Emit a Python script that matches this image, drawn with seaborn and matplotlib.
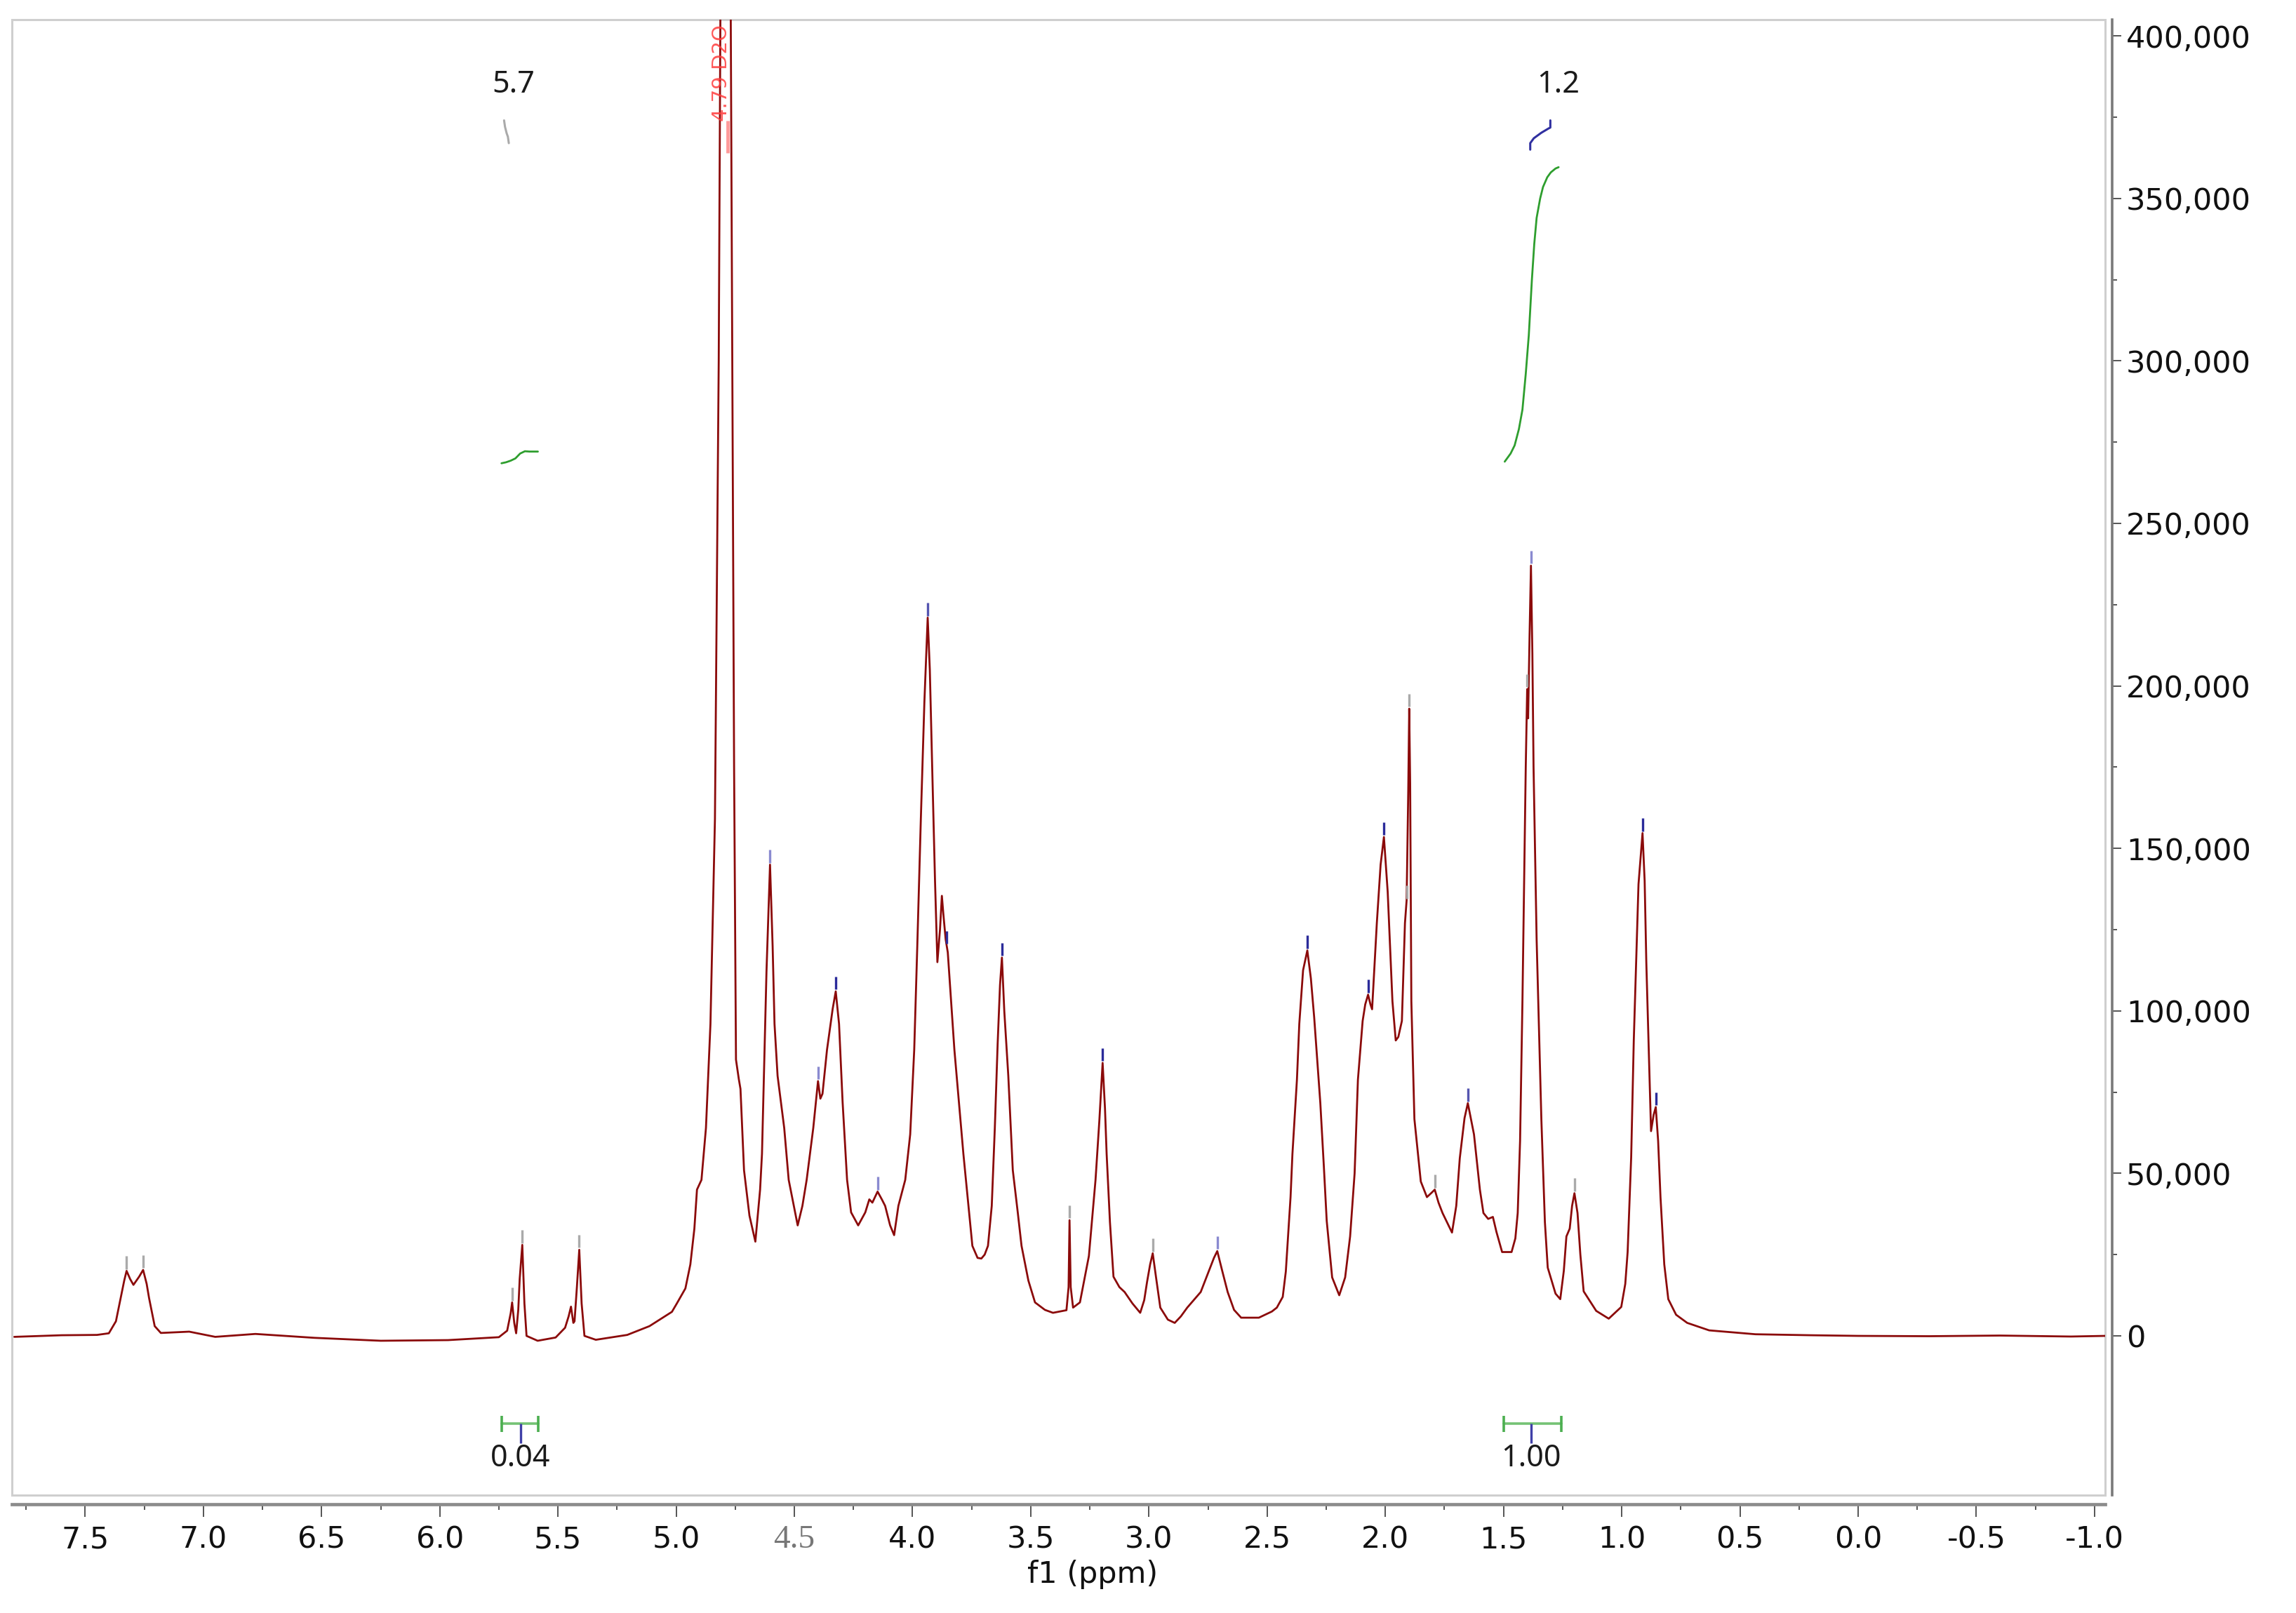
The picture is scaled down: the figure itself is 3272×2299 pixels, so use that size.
# 1H NMR spectrum (D2O), redrawn from the reference picture
import numpy as np
import pandas as pd
import matplotlib
matplotlib.use('Agg')
import matplotlib.pyplot as plt
import seaborn as sns
from matplotlib.ticker import FixedLocator
from matplotlib.patches import Rectangle

# spectrum trace: chemical shift (ppm) and intensity (thousands)
spec_ppm = [7.80, 7.60, 7.45, 7.40, 7.37, 7.35, 7.335, 7.325, 7.31, 7.296, 7.272, 7.255, 7.24, 7.23,
            7.206, 7.18, 7.06, 6.95, 6.78, 6.53, 6.25, 5.965, 5.75, 5.715, 5.70, 5.694, 5.685, 5.677,
            5.668, 5.662, 5.651, 5.642, 5.633, 5.586, 5.51, 5.47, 5.455, 5.445, 5.435, 5.43, 5.42, 5.41,
            5.40, 5.388, 5.34, 5.207, 5.113, 5.018, 4.997, 4.961, 4.94, 4.923, 4.912, 4.893, 4.874,
            4.855, 4.836, 4.82, 4.812, 4.79, 4.77, 4.76, 4.755, 4.747, 4.735, 4.728, 4.713, 4.69, 4.665,
            4.645, 4.637, 4.618, 4.603, 4.592, 4.584, 4.571, 4.543, 4.524, 4.486, 4.466, 4.448, 4.42,
            4.40, 4.39, 4.381, 4.362, 4.338, 4.325, 4.311, 4.296, 4.277, 4.26, 4.23, 4.20, 4.183, 4.17,
            4.148, 4.13, 4.116, 4.095, 4.078, 4.06, 4.031, 4.01, 3.993, 3.98, 3.965, 3.95, 3.936, 3.927,
            3.917, 3.905, 3.895, 3.884, 3.876, 3.87, 3.86, 3.851, 3.823, 3.785, 3.747, 3.725, 3.709,
            3.695, 3.681, 3.665, 3.652, 3.64, 3.63, 3.622, 3.612, 3.595, 3.576, 3.555, 3.539, 3.51,
            3.482, 3.44, 3.406, 3.349, 3.34, 3.336, 3.331, 3.321, 3.292, 3.254, 3.226, 3.21, 3.196,
            3.186, 3.179, 3.165, 3.15, 3.125, 3.103, 3.07, 3.037, 3.02, 3.008, 2.995, 2.984, 2.97,
            2.952, 2.92, 2.891, 2.865, 2.838, 2.781, 2.743, 2.725, 2.711, 2.69, 2.667, 2.64, 2.61,
            2.535, 2.48, 2.459, 2.434, 2.421, 2.401, 2.393, 2.374, 2.364, 2.348, 2.33, 2.315, 2.301,
            2.275, 2.26, 2.248, 2.225, 2.195, 2.17, 2.149, 2.13, 2.116, 2.096, 2.085, 2.073, 2.063,
            2.056, 2.036, 2.02, 2.006, 1.99, 1.97, 1.956, 1.945, 1.93, 1.917, 1.91, 1.903, 1.899,
            1.895, 1.89, 1.877, 1.85, 1.824, 1.805, 1.791, 1.775, 1.758, 1.718, 1.70, 1.685, 1.665,
            1.651, 1.625, 1.60, 1.585, 1.565, 1.545, 1.53, 1.506, 1.466, 1.45, 1.44, 1.43, 1.42,
            1.406, 1.40, 1.396, 1.39, 1.384, 1.378, 1.373, 1.36, 1.34, 1.325, 1.313, 1.28, 1.26,
            1.245, 1.234, 1.22, 1.21, 1.20, 1.187, 1.175, 1.161, 1.108, 1.055, 1.002, 0.985, 0.975,
            0.96, 0.949, 0.929, 0.912, 0.903, 0.896, 0.876, 0.865, 0.856, 0.846, 0.836, 0.82, 0.803,
            0.77, 0.723, 0.63, 0.434, 0.2, 0.0, -0.3, -0.6, -0.9, -1.045]
spec_k = [-0.3, 0.2, 0.3, 0.8, 4.5, 11.7, 17, 20, 17.5, 15.7, 18.2, 20.3, 16, 11.7,
          3, 0.9, 1.3, -0.3, 0.6, -0.6, -1.5, -1.3, -0.4, 1.6, 7, 10.3, 4, 0.8,
          8, 17.5, 28, 10, 0, -1.5, -0.5, 2.5, 6, 9, 4, 4.5, 15, 26.5,
          10, 0, -1.2, 0.3, 3, 7.4, 10, 14.6, 22, 33, 45, 48, 64,
          96, 159, 300, 420, 2000, 420, 260, 175, 85, 79, 76, 51, 37, 29,
          45, 56, 112, 145, 120, 96, 80, 64, 48, 34, 40, 48, 64,
          78.4, 73, 74.5, 88, 100.6, 106, 96, 72, 48, 38, 34, 38, 42, 41,
          44.4, 42, 40, 34, 31, 40, 48, 62, 88, 120, 159, 195, 221, 205,
          175, 140, 115, 125, 135.4, 130, 122, 118, 88, 56, 27.7, 24, 23.8,
          25, 27.7, 40, 64, 90, 108, 116.4, 100, 80, 51, 38, 27.7, 17,
          10.3, 8, 7.1, 7.9, 15, 35.6, 15, 8.7, 10.3, 24.6, 48, 66, 84,
          70, 56, 35, 18.2, 15, 13.5, 10, 7.1, 11, 16.6, 22, 25.4, 18,
          8.7, 5, 4, 6, 8.7, 13.5, 20.6, 24, 26.1, 20, 13.5, 8, 5.6,
          5.6, 7.5, 8.7, 12, 19.8, 42.7, 56, 78.8, 96, 112.5, 118.6, 110, 98,
          71.6, 52, 35.4, 18, 12.5, 18, 30.6, 50, 78.8, 96.9, 102, 105, 102,
          100.5, 127, 145, 153.5, 136.6, 103, 90.9, 92, 96.9, 127, 134, 168, 193,
          170, 103, 66.7, 47.5, 42.7, 44, 45, 41, 37.8, 31.8, 40, 54.7, 67,
          71.6, 62, 45, 37.8, 36, 36.6, 32, 25.8, 25.8, 30, 37.8, 60, 103,
          175, 199, 190, 215, 237, 210, 175, 122, 66.7, 35, 21, 13, 11.3,
          20, 30.6, 33, 40, 43.9, 37.8, 25, 13.7, 7.7, 5.3, 8.9, 16, 25.8,
          55, 90.9, 139, 154.7, 140, 115, 63, 68, 70.4, 60, 42.7, 22, 11.3,
          6.5, 4, 1.7, 0.5, 0.2, 0.0, -0.1, 0.1, -0.2, 0.0]

# picked peaks (small ticks above the maxima)
pick_ppm = [7.325, 7.255, 5.694, 5.651, 5.41, 4.603, 4.40, 4.325, 4.148, 3.936, 3.855, 3.622,
            3.336, 3.196, 2.984, 2.711, 2.33, 2.073, 2.006, 1.91, 1.899, 1.791, 1.651, 1.40,
            1.384, 1.20, 0.912, 0.856]
pick_k = [20, 20.3, 10.3, 28, 26.5, 145, 78.4, 106, 44.4, 221, 120, 116.4,
          35.6, 84, 25.4, 26.1, 118.6, 105, 153.5, 134, 193, 45, 71.6, 199,
          237, 43.9, 154.7, 70.4]
pick_col = ['#aaaaaa', '#aaaaaa', '#aaaaaa', '#aaaaaa', '#aaaaaa', '#8a8ad0', '#8a8ad0', '#2b2b9a',
            '#8a8ad0', '#5555b0', '#2b2b9a', '#2b2b9a', '#aaaaaa', '#2b2b9a', '#aaaaaa', '#8a8ad0',
            '#2b2b9a', '#2b2b9a', '#2b2b9a', '#aaaaaa', '#aaaaaa', '#aaaaaa', '#5555b0', '#aaaaaa',
            '#8a8ad0', '#aaaaaa', '#2b2b9a', '#2b2b9a']

# integral curves (ppm, thousands)
integ_a_ppm = [5.739, 5.72, 5.70, 5.68, 5.66, 5.64, 5.62, 5.585]
integ_a_k = [268.5, 268.8, 269.3, 270.0, 271.5, 272.2, 272.1, 272.1]
integ_b_ppm = [1.495, 1.47, 1.453, 1.435, 1.42, 1.406, 1.393, 1.38, 1.37, 1.36, 1.345, 1.333,
               1.315, 1.30, 1.28, 1.267]
integ_b_k = [269, 271.5, 274, 279, 285, 296, 308, 325, 336, 344, 350, 353.5,
             356.5, 358, 359.2, 359.6]
integ_labels = ['5.7', '1.2']
integ_label_ppm = [5.688, 1.269]
integ_values = ['0.04', '1.00']
integ_lo = [5.739, 1.498]
integ_hi = [5.585, 1.257]
integ_mid = [5.659, 1.382]

# small connector marks under the integral labels
conn_a_ppm = [5.728, 5.724, 5.717, 5.712, 5.708]
conn_a_k = [374, 372, 370, 369, 367]
conn_b_ppm = [1.387, 1.387, 1.372, 1.34, 1.31, 1.302, 1.302]
conn_b_k = [365, 367, 368.5, 370.2, 371.5, 371.8, 374]

x_ticks = [7.5, 7.0, 6.5, 6.0, 5.5, 5.0, 4.5, 4.0, 3.5, 3.0, 2.5, 2.0, 1.5, 1.0, 0.5, 0.0, -0.5, -1.0]
x_ticklabels = ['7.5', '7.0', '6.5', '6.0', '5.5', '5.0', '4.5', '4.0', '3.5', '3.0', '2.5', '2.0',
                '1.5', '1.0', '0.5', '0.0', '-0.5', '-1.0']
y_ticks = [0, 50000, 100000, 150000, 200000, 250000, 300000, 350000, 400000]
y_ticklabels = ['0', '50,000', '100,000', '150,000', '200,000', '250,000', '300,000', '350,000', '400,000']

sns.set_theme(style='white')
plt.rcParams['font.family'] = ['DejaVu Sans']

W, H = 3273, 2299
fig = plt.figure(figsize=(W / 100, H / 100), dpi=100)
ax = fig.add_axes([17 / W, (H - 2131) / H, (3000 - 17) / W, (2131 - 28) / H])

df = pd.DataFrame({'ppm': spec_ppm, 'intensity': np.array(spec_k) * 1000})
sns.lineplot(data=df, x='ppm', y='intensity', ax=ax, color='#8b0a0a', lw=2.0,
             sort=False, estimator=None)

ax.set_xlim(7.81, -1.045)
ax.set_ylim(-49000, 405000)

# peak pick ticks
pk = np.array(pick_k) * 1000
ax.vlines(pick_ppm, pk + 600, pk + 4600, colors=pick_col, lw=2.4)

# water peak label
ax.text(4.809, 403500, '4.79 D2O', rotation=90, color='#ff3b3b', fontsize=21,
        ha='center', va='top', alpha=0.85)
ax.vlines([4.781], 364000, 374000, colors='#ff9a9a', lw=3.5)

# integrals
ax.plot(integ_a_ppm, np.array(integ_a_k) * 1000, color='#2e9e2e', lw=2)
ax.plot(integ_b_ppm, np.array(integ_b_k) * 1000, color='#2e9e2e', lw=2)
ax.plot(conn_a_ppm, np.array(conn_a_k) * 1000, color='#aaaaaa', lw=2.2)
ax.plot(conn_b_ppm, np.array(conn_b_k) * 1000, color='#3030a0', lw=2.2)
for lab, x in zip(integ_labels, integ_label_ppm):
    ax.text(x, 385000, lab, ha='center', va='center', fontsize=31,
            family='Noto Sans', color='#1a1a1a')
for lo, hi, mid, val in zip(integ_lo, integ_hi, integ_mid, integ_values):
    ax.plot([lo, hi], [-27000, -27000], color='#5cb85c', lw=2.6, alpha=0.85)
    ax.vlines([lo, hi], -29500, -24500, colors='#4caf50', lw=2.6)
    ax.vlines([mid], -33000, -27000, colors='#4040a8', lw=2.4)
    ax.text(mid, -37800, val, ha='center', va='center', fontsize=31,
            family='Noto Sans', color='#1a1a1a')

# frame and axes
for s in ax.spines.values():
    s.set_visible(False)
ax.add_patch(Rectangle((0, 0), 1, 1, transform=ax.transAxes, fill=False,
                       ec='#cfcfcf', lw=2.2, clip_on=False))
ax.spines['bottom'].set_visible(True)
ax.spines['bottom'].set_position(('outward', 9.5))
ax.spines['bottom'].set_color('#8c8c8c')
ax.spines['bottom'].set_linewidth(3.4)
ax.spines['right'].set_visible(True)
ax.spines['right'].set_position(('outward', 7.5))
ax.spines['right'].set_color('#7a7a7a')
ax.spines['right'].set_linewidth(2.6)

ax.set_xticks(x_ticks)
ax.set_xticklabels(x_ticklabels)
ax.xaxis.set_minor_locator(FixedLocator([t - 0.25 for t in x_ticks] + [7.75]))
ax.tick_params(axis='x', which='major', bottom=True, direction='out', length=13, width=1.4,
               color='#555555', labelsize=31, pad=8, labelcolor='#111111')
ax.tick_params(axis='x', which='minor', bottom=True, direction='out', length=6, width=1.4,
               color='#555555')
for t in ax.get_xticklabels():
    if t.get_text() == '4.5':
        t.set_family('Liberation Serif')
        t.set_color('#777777')
        t.set_fontsize(34)

ax.yaxis.tick_right()
ax.set_yticks(y_ticks)
ax.set_yticklabels(y_ticklabels)
ax.yaxis.set_minor_locator(FixedLocator([25000 + 50000 * i for i in range(8)]))
ax.tick_params(axis='y', which='major', right=True, left=False, direction='out', length=9,
               width=1.4, color='#555555', labelsize=31, pad=5, labelcolor='#111111')
ax.tick_params(axis='y', which='minor', right=True, left=False, direction='out', length=5,
               width=1.4, color='#555555')

ax.set_xlabel('f1 (ppm)', fontsize=31, color='#111111')
ax.set_ylabel('')
ax.xaxis.set_label_coords((1557 - 17) / 2983, -113 / 2103)
ax.xaxis.label.set_va('center')

fig.savefig('out.png', dpi=100)
